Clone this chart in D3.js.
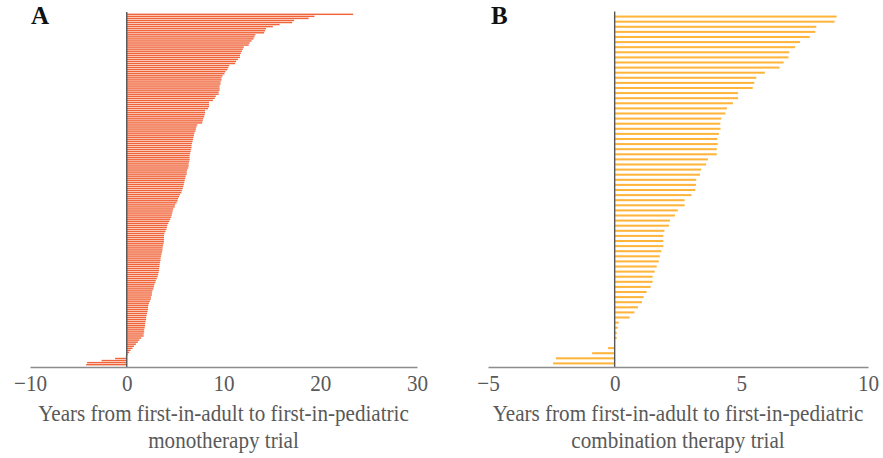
<!DOCTYPE html>
<html>
<head>
<meta charset="utf-8">
<script src="https://cdn.jsdelivr.net/npm/d3@7"></script>
<style>
	html, body { margin: 0; padding: 0; background: #fff; }
	svg text { font-family: 'Liberation Serif', 'Times New Roman', serif; }
</style>
</head>
<body>
<div id="main-content"></div>
<script>
'use strict'

// years from first-in-adult to first-in-pediatric trial, one value per drug, sorted as in the figure
const monoYears = [
	23.4, 19.4, 18.8, 17.3, 17.1, 15.8, 15.1, 14.4, 14.3, 14.2, 13.3, 13.2, 13.1, 12.9, 12.7, 12.6,
	12.1, 12.0, 11.9, 11.8, 11.7, 11.7, 11.5, 11.3, 11.2, 10.6, 10.5, 10.4, 10.2, 10.1, 9.9, 9.8,
	9.8, 9.7, 9.7, 9.6, 9.6, 9.6, 9.5, 9.5, 9.2,
	9.1, 8.9, 8.5, 8.5, 8.5, 8.4, 8.1, 8.1, 8.05, 8.0, 7.9, 7.85, 7.8, 7.3, 7.2, 7.15, 7.1, 7.0,
	6.95, 6.9, 6.85, 6.8, 6.75, 6.7, 6.7, 6.65, 6.6, 6.55, 6.5, 6.5, 6.5, 6.45, 6.4, 6.4, 6.35,
	6.25, 6.2, 6.2, 6.1, 6.05, 6.0, 5.95, 5.9, 5.85,
	5.8, 5.7, 5.65, 5.5, 5.4, 5.3, 5.25, 5.15, 5.0, 4.95, 4.8, 4.75, 4.7, 4.65, 4.6, 4.5, 4.4,
	4.3, 4.2, 4.15, 4.1, 4.0, 3.9, 3.85, 3.85, 3.85, 3.85, 3.8, 3.75, 3.7, 3.7, 3.65, 3.6, 3.55,
	3.5, 3.5, 3.45, 3.4, 3.4, 3.35, 3.35, 3.3, 3.25, 3.2, 3.1,
	3.0, 2.95, 2.85, 2.8, 2.75, 2.65, 2.6, 2.6, 2.5, 2.5, 2.4, 2.3, 2.25, 2.2, 2.2, 2.15, 2.1,
	2.05, 2.0, 2.0, 1.95, 1.9, 1.9, 1.85, 1.8, 1.8, 1.75, 1.75, 1.5, 1.3, 1.15, 0.95, 0.75, 0.6,
	0.4, 0.25, 0.1, -0.1, -1.2, -2.6, -4.1, -4.2
]

const comboYears = [
	8.76, 8.68, 7.96, 7.92, 7.70, 7.32, 7.12, 6.89, 6.86, 6.67, 6.51, 5.93, 5.59, 5.51, 5.45,
	4.87, 4.87, 4.67, 4.43, 4.37, 4.21, 4.17, 4.18, 4.11, 4.05, 4.07, 4.03, 4.03, 3.68, 3.61,
	3.41, 3.37, 3.22, 3.21, 3.18, 3.03, 2.76, 2.76, 2.49, 2.38, 2.18, 2.14, 1.96, 1.92, 1.92,
	1.92, 1.84, 1.78, 1.74, 1.66, 1.58, 1.50, 1.50, 1.42, 1.26, 1.14, 1.08, 0.92, 0.78, 0.59,
	0.16, 0.12, 0.08, 0.08, 0, -0.26, -0.89, -2.32, -2.43
]

const monoTicks = [-10, 0, 10, 20, 30]
const comboTicks = [-5, 0, 5, 10]
const monoTitle = ['Years from first-in-adult to first-in-pediatric', 'monotherapy trial']
const comboTitle = ['Years from first-in-adult to first-in-pediatric', 'combination therapy trial']

const width = 883,
		height = 458

const svg = d3.select('#main-content').append('svg')
	.attr('width', width)
	.attr('height', height)

const drawPanel = (opts) => {
	const x = d3.scaleLinear()
		.domain(d3.extent(opts.ticks))
		.range(opts.xRange)

	const y = d3.scaleBand()
		.domain(d3.range(opts.values.length))
		.range(opts.yRange)
		.padding(opts.padding)

	const cx = (opts.xRange[0] + opts.xRange[1]) / 2
	const g = svg.append('g')

	// bars
	g.append('g').selectAll('rect')
		.data(opts.values)
		.enter().append('rect')
			.attr('x', (d) => x(Math.min(0, d)))
			.attr('y', (d, i) => y(i))
			.attr('width', (d) => Math.abs(x(d) - x(0)))
			.attr('height', y.bandwidth())
			.attr('fill', opts.color)

	// zero line
	g.append('line')
		.attr('x1', x(0))
		.attr('x2', x(0))
		.attr('y1', opts.yRange[0] - 1)
		.attr('y2', opts.axisY)
		.attr('stroke', '#555')
		.attr('stroke-width', 1.4)

	const axis = g.append('g')
		.attr('transform', `translate(0,${opts.axisY})`)
		.call(d3.axisBottom(x).tickValues(opts.ticks).tickSize(0).tickPadding(8).tickSizeOuter(0))

	axis.select('.domain')
		.attr('stroke', '#8c8c8c')
		.attr('stroke-width', 1.6)
	axis.selectAll('.tick text')
		.attr('fill', '#595959')
		.attr('transform', 'scale(0.92,1)')
		.style('font-size', '23px')

	// two-line axis title, squeezed a little like the original
	const title = g.append('text')
		.attr('transform', `translate(${cx},421) scale(0.88,1)`)
		.attr('text-anchor', 'middle')
		.attr('fill', '#595959')
		.style('font-size', '24px')
	title.selectAll('tspan')
		.data(opts.title)
		.enter().append('tspan')
			.attr('x', 0)
			.attr('y', (d, i) => i * 27)
			.text((d) => d)

	g.append('text')
		.attr('x', opts.letterX)
		.attr('y', 24)
		.attr('font-weight', 'bold')
		.attr('fill', '#111')
		.style('font-size', '25px')
		.text(opts.letter)
}

drawPanel({
	values: monoYears, ticks: monoTicks, title: monoTitle, letter: 'A', letterX: 31,
	xRange: [30, 417], yRange: [13, 366], axisY: 367, padding: 0.3, color: '#f0643a'
})

drawPanel({
	values: comboYears, ticks: comboTicks, title: comboTitle, letter: 'B', letterX: 491,
	xRange: [488, 868], yRange: [12.5, 367.5], axisY: 367, padding: 0.6, color: '#ffb43c'
})
</script>
</body>
</html>
